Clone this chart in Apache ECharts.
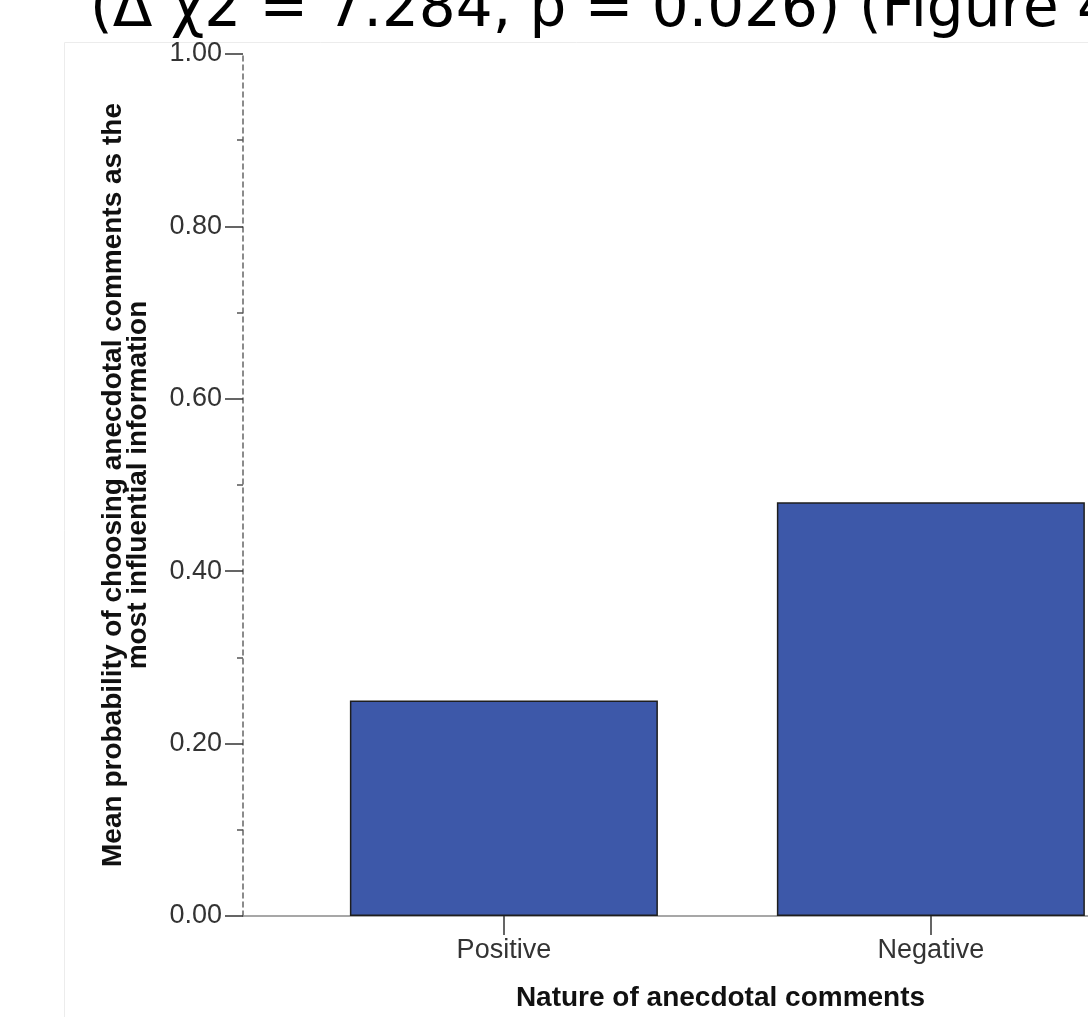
<!DOCTYPE html>
<html>
<head>
<meta charset="utf-8">
<title>Nature of anecdotal comments</title>
<script src="https://cdn.jsdelivr.net/npm/echarts@6/dist/echarts.min.js"></script>
<style>
  html, body { margin: 0; padding: 0; background: #ffffff; }
  #chart { width: 1088px; height: 1017px; }
</style>
</head>
<body>
<div id="chart"></div>
<script>
// Categories and mean probabilities
var categories = ['Positive', 'Negative'];
var meanProbability = [0.25, 0.48];
var yTicks = [0, 0.2, 0.4, 0.6, 0.8, 1.0];

var headline = '(\u0394 \u03c72 = 7.284, p = 0.026) (Figure 4';
var xTitle = 'Nature of anecdotal comments';
var yTitle = 'Mean probability of choosing anecdotal comments as the\nmost influential information';

var barData = categories.map(function (c, i) { return [i, meanProbability[i]]; });
var catIdx = categories.map(function (c, i) { return i; });

var chart = echarts.init(document.getElementById('chart'), null, { renderer: 'canvas' });

chart.setOption({
  animation: false,
  backgroundColor: '#ffffff',
  title: {
    text: headline,
    left: 85,
    top: -23,
    textStyle: {
      fontFamily: 'DejaVu Sans',
      fontWeight: 'normal',
      fontSize: 58,
      color: '#000000'
    }
  },
  graphic: [{
    type: 'rect',
    left: 62,
    top: 40,
    shape: { width: 1100, height: 1100 },
    style: { fill: 'none', stroke: '#ececec', lineWidth: 1 },
    z: -1
  }],
  grid: {
    left: 243,
    top: 54,
    right: 0,
    bottom: 99,
    containLabel: false
  },
  // category slots sit one unit apart; the frame runs on past the right edge
  xAxis: {
    type: 'value',
    min: -0.611,
    max: 1.368,
    name: xTitle,
    nameLocation: 'middle',
    nameGap: 68,
    nameTextStyle: {
      fontFamily: 'Liberation Sans',
      fontWeight: 'bold',
      fontSize: 28,
      color: '#111111',
      padding: [0, 0, 0, 110]
    },
    axisLine: { show: true, onZero: false, lineStyle: { color: '#8a8a8a', width: 1.5 } },
    axisTick: {
      show: true,
      customValues: catIdx,
      length: 19,
      lineStyle: { color: '#333333', width: 1.5 }
    },
    axisLabel: {
      customValues: catIdx,
      formatter: function (v) { return categories[Math.round(v)]; },
      margin: 21,
      fontFamily: 'Liberation Sans',
      fontSize: 27,
      color: '#333333'
    },
    splitLine: { show: false }
  },
  yAxis: {
    type: 'value',
    min: 0,
    max: 1,
    interval: 0.2,
    name: yTitle,
    nameLocation: 'middle',
    nameGap: 92,
    nameTextStyle: {
      fontFamily: 'Liberation Sans',
      fontWeight: 'bold',
      fontSize: 28,
      lineHeight: 25,
      color: '#111111'
    },
    axisLine: { show: true, onZero: false, lineStyle: { color: '#666666', width: 1.5, type: [5, 4] } },
    axisTick: { show: true, length: 18, lineStyle: { color: '#333333', width: 1.5 } },
    minorTick: { show: true, splitNumber: 2, length: 6, lineStyle: { color: '#555555', width: 1.5 } },
    axisLabel: {
      margin: 21,
      fontFamily: 'Liberation Sans',
      fontSize: 27,
      color: '#333333',
      formatter: function (v) { return v.toFixed(2); }
    },
    splitLine: { show: false }
  },
  series: [{
    type: 'bar',
    data: barData,
    barWidth: 308,
    itemStyle: {
      color: '#3d58a9',
      borderColor: '#1e1e1e',
      borderWidth: 1.5
    }
  }]
});
</script>
</body>
</html>
